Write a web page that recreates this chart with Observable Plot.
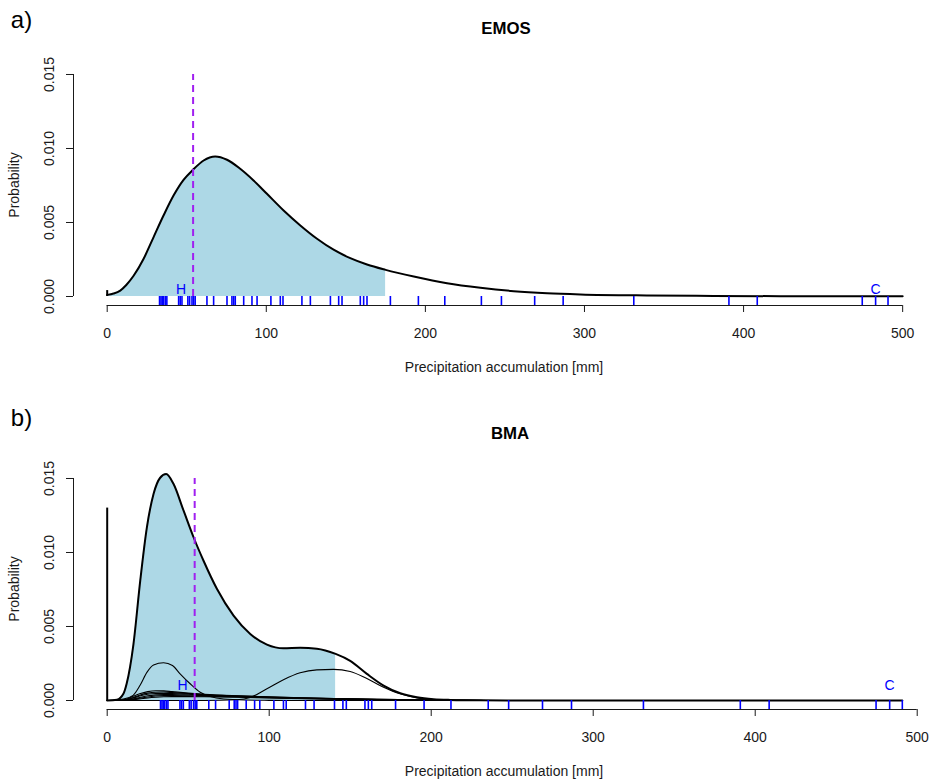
<!DOCTYPE html>
<html><head><meta charset="utf-8">
<script src="https://cdn.jsdelivr.net/npm/d3@7"></script>
<script src="https://cdn.jsdelivr.net/npm/@observablehq/plot@0.6"></script>
<style>body{margin:0;background:#fff;} #chart svg{display:block;}</style>
</head><body><div id="chart"></div>
<script>
// ---------- data ----------
const ensemble = [32.9, 33.8, 34.6, 35.4, 36.5, 37.5, 44.9, 45.9, 47, 50.7, 51.8, 53.3, 54.3, 55.3,
  62.7, 66.9, 75.3, 78.4, 79.5, 80.5, 85.8, 91, 94.2, 102.9, 108.8, 110.5, 122.4, 127.7, 140.3,
  145.5, 147.6, 159.1, 161.2, 163.3, 178, 195.6, 212.2, 235.2, 247.8, 268.7, 286.6, 331, 390.8,
  408.6, 474.6, 483, 490.8];
const observation = 54;
const markerNames = ["H", "C"];
const markerX = [46.5, 483];
const xTicks = [0, 100, 200, 300, 400, 500];
const yTicks = [0, 0.005, 0.010, 0.015];
const xTitle = "Precipitation accumulation [mm]";
const yTitle = "Probability";

// EMOS predictive density
const emosX = [0, 4, 8.2, 12, 16.6, 22.9, 29.1, 35.4, 41.7, 48, 53.9, 60.6, 67.9, 75.3, 83.6, 92,
  100.4, 110.9, 121.4, 131.9, 142.3, 152.8, 163.3, 175, 192.7, 213.6, 234.6, 255.5, 276.5, 297.5,
  339, 381, 423, 460, 500];
const emosP = [0.00011, 0.0002, 0.0004, 0.00078, 0.0014, 0.00255, 0.0040, 0.00547, 0.00682,
  0.00788, 0.00856, 0.00919, 0.00946, 0.00924, 0.00863, 0.00784, 0.00694, 0.00581, 0.0048, 0.0039,
  0.00316, 0.00259, 0.00216, 0.0018, 0.00135, 0.0009, 0.00059, 0.00036, 0.00022, 0.00014, 0.00007,
  0.00004, 0.00002, 0.00001, 0.00001];
const emosZeroMass = 0.0004;
const emosShadeMax = 175;

// BMA predictive density (mixture)
const bmaX = [0, 6, 10, 12, 16.2, 20.4, 24.5, 28.6, 32.7, 36.4, 40.9, 47.1, 53.3, 59.4, 67.7, 78,
  88.3, 98.6, 108.8, 119.1, 129.4, 141, 150, 160.3, 170.6, 180.9, 191.2, 201.4, 211.7, 230, 260,
  300, 400, 490.8];
const bmaP = [0, 0.00005, 0.00045, 0.00113, 0.0038, 0.0081, 0.0117, 0.01395, 0.01505, 0.0153,
  0.01464, 0.01284, 0.01103, 0.00946, 0.00755, 0.00574, 0.0045, 0.00378, 0.00353, 0.00356, 0.0035,
  0.00315, 0.00268, 0.0018, 0.00101, 0.00049, 0.00022, 0.00009, 0.00004, 0.00001, 0, 0, 0, 0];
const bmaZeroMass = 0.013;
const bmaShadeMax = 141;

// BMA weighted components
const comp1X = [0, 10, 16, 20.4, 24.5, 28.6, 34.8, 40.3, 45, 51.2, 57.4, 63.6, 72, 85, 100, 120, 490.8];
const comp1P = [0, 0.0001, 0.00035, 0.00105, 0.0019, 0.0024, 0.00255, 0.00236, 0.0018, 0.00113,
  0.00056, 0.00027, 0.0001, 0.00003, 0.00001, 0, 0];
const comp2X = [0, 60, 80, 88.3, 98.6, 108.8, 119.1, 129.4, 139.7, 150, 160.3, 170.6, 180.9, 191.2,
  201.4, 220, 250, 490.8];
const comp2P = [0, 0, 0.00005, 0.0002, 0.00079, 0.0014, 0.00187, 0.00207, 0.0021, 0.00196, 0.00148,
  0.0009, 0.00045, 0.00018, 0.00007, 0.00001, 0, 0];
const smallX = [0, 8, 12, 16, 20, 25, 30, 35, 40, 50, 60, 80, 100, 120, 140, 160, 180, 200, 220, 250];
const small1 = [0, 0.00002, 0.0001, 0.00028, 0.00045, 0.0006, 0.00066, 0.00065, 0.0006, 0.0005,
  0.00042, 0.00032, 0.00025, 0.00019, 0.00014, 0.0001, 0.00006, 0.00003, 0.00001, 0];
const small2 = [0, 0.00001, 0.00006, 0.0002, 0.00036, 0.0005, 0.00056, 0.00057, 0.00054, 0.00047,
  0.0004, 0.00031, 0.00024, 0.00018, 0.00013, 0.00009, 0.00006, 0.00003, 0.00001, 0];
const small3 = [0, 0.00001, 0.00005, 0.00016, 0.0003, 0.00042, 0.00047, 0.00048, 0.00047, 0.00043,
  0.00037, 0.00029, 0.00022, 0.00016, 0.00012, 0.00008, 0.00005, 0.00002, 0.00001, 0];
const small4 = [0, 0, 0.00003, 0.0001, 0.0002, 0.00032, 0.00038, 0.0004, 0.0004, 0.00037, 0.00033,
  0.00027, 0.0002, 0.00015, 0.00011, 0.00007, 0.00004, 0.00002, 0.00001, 0];
const small5 = [0, 0, 0.00002, 0.00007, 0.00015, 0.00024, 0.0003, 0.00033, 0.00033, 0.00031, 0.00029,
  0.00024, 0.00019, 0.00014, 0.0001, 0.00006, 0.00004, 0.00002, 0, 0];
const small6 = [0, 0, 0.00001, 0.00005, 0.0001, 0.00017, 0.00022, 0.00025, 0.00026, 0.00026, 0.00025,
  0.00022, 0.00017, 0.00013, 0.00009, 0.00006, 0.00003, 0.00001, 0, 0];

// ---------- build ----------
const pts = (xs, ps) => xs.map((x, i) => ({x, p: ps[i]}));
const yDomain = [-0.000608, 0.01581];
const font = "'Liberation Sans', Arial, Helvetica, sans-serif";
const ink = "#1a1a1a";

function panel(o) {
  const total = pts(o.xs, o.ps);
  const marks = [
    Plot.areaY(total.filter(d => d.x <= o.shadeMax), {x: "x", y: "p", fill: "#ADD8E6", curve: "monotone-x"}),
    ...o.comps.map(c => Plot.lineY(c, {x: "x", y: "p", stroke: "black", strokeWidth: 1.1, curve: "monotone-x"})),
    Plot.lineY(total, {x: "x", y: "p", stroke: "black", strokeWidth: 2, curve: "monotone-x"}),
    Plot.ruleX([0], {y1: 0, y2: o.zeroMass, stroke: "black", strokeWidth: 2}),
    Plot.ruleX([observation], {y1: 0, y2: yTicks[yTicks.length - 1], stroke: "#A020F0", strokeWidth: 2, strokeDasharray: "7,5"}),
    Plot.ruleX(ensemble, {y1: yDomain[0], y2: 0, stroke: "#0000FF", strokeWidth: 1.6}),
    Plot.text(markerNames, {x: (d, i) => markerX[i], y: () => o.markerY, text: d => d, fill: "#0000FF", fontSize: 14, textAnchor: "middle", lineAnchor: "middle"}),
    // x axis
    Plot.ruleY([yDomain[0]], {x1: xTicks[0], x2: xTicks[xTicks.length - 1], stroke: ink}),
    Plot.axisX(xTicks, {anchor: "bottom", tickSize: 7, fill: "none", stroke: ink, label: null}),
    Plot.text(xTicks, {x: d => d, frameAnchor: "bottom", dy: 28, text: d => String(d), fontSize: 14, textAnchor: "middle", lineAnchor: "middle", fill: ink}),
    Plot.text([xTitle], {frameAnchor: "bottom", dx: 2, dy: 62, fontSize: 14, textAnchor: "middle", lineAnchor: "middle", fill: ink}),
    // y axis
    Plot.ruleX([o.xDomain[0]], {y1: yTicks[0], y2: yTicks[yTicks.length - 1], stroke: ink}),
    Plot.axisY(yTicks, {anchor: "left", tickSize: 7, fill: "none", stroke: ink, label: null}),
    Plot.text(yTicks, {y: d => d, frameAnchor: "left", dx: -24, rotate: -90, text: d => d3.format(".3f")(d), fontSize: 14, textAnchor: "middle", lineAnchor: "middle", fill: ink}),
    Plot.text([yTitle], {frameAnchor: "left", dx: -59, dy: 1, rotate: -90, fontSize: 14, textAnchor: "middle", lineAnchor: "middle", fill: ink}),
    // titles
    Plot.text([o.main], {frameAnchor: "top", dx: o.mainDx, dy: o.mainDy, fontSize: 16.8, fontWeight: "bold", textAnchor: "middle", lineAnchor: "middle", fill: "black"}),
    Plot.text([o.tag], {frameAnchor: "top-left", dx: -52, dy: o.tagDy, fontSize: 24, textAnchor: "middle", lineAnchor: "middle", fill: "black"})
  ];
  return Plot.plot({
    width: 930,
    height: o.height,
    marginLeft: 73,
    marginRight: 0,
    marginTop: o.marginTop,
    marginBottom: 73,
    x: {domain: o.xDomain},
    y: {domain: yDomain},
    style: {fontFamily: font, background: "white", color: "black", overflow: "visible"},
    marks
  });
}

const chart = document.getElementById("chart");
chart.append(panel({
  height: 378, marginTop: 62, xDomain: [-21.18, 517.5],
  xs: emosX, ps: emosP, shadeMax: emosShadeMax, comps: [], zeroMass: emosZeroMass,
  markerY: 0.0005, main: "EMOS", mainDx: 4, mainDy: -34, tag: "a)", tagDy: -42
}));
chart.append(panel({
  height: 404, marginTop: 88, xDomain: [-20.8, 508.2],
  xs: bmaX, ps: bmaP, shadeMax: bmaShadeMax,
  comps: [pts(smallX, small6), pts(smallX, small5), pts(smallX, small4), pts(smallX, small3),
          pts(smallX, small2), pts(smallX, small1), pts(comp1X, comp1P), pts(comp2X, comp2P)],
  zeroMass: bmaZeroMass,
  markerY: 0.001, main: "BMA", mainDx: 8, mainDy: -33, tag: "b)", tagDy: -48
}));
</script>
</body></html>
